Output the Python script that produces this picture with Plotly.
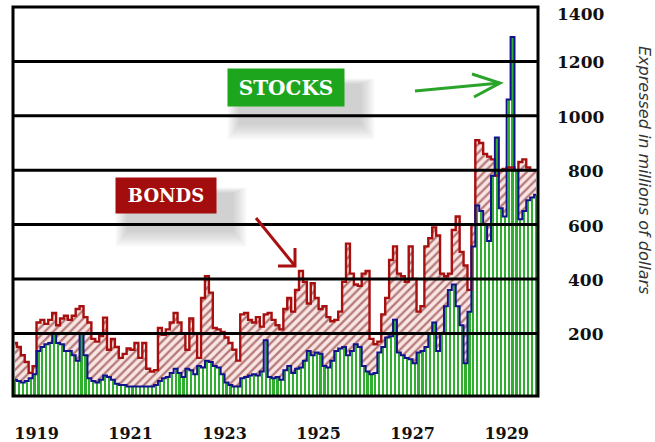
import numpy as np
import plotly.graph_objects as go

# ---------------- data (monthly, Jul 1918 .. Aug 1929), millions of dollars ----------------
START_YEAR = 1918.5
BONDS = [165, 150, 120, 95, 55, 80, 240, 250, 235, 250, 275, 230, 255, 265, 250, 265, 290, 300, 260, 240,
         180, 170, 190, 258, 140, 180, 150, 110, 125, 145, 140, 165, 110, 165, 70, 60, 65, 220, 195, 215,
         240, 275, 240, 200, 140, 255, 200, 110, 330, 410, 350, 220, 215, 205, 185, 165, 140, 100, 270, 275,
         250, 240, 260, 225, 270, 275, 250, 230, 215, 290, 330, 280, 360, 430, 390, 310, 385, 330, 290, 300,
         260, 245, 250, 280, 390, 530, 420, 380, 375, 420, 430, 180, 160, 170, 270, 330, 470, 520, 420, 410,
         390, 520, 400, 280, 300, 520, 550, 590, 560, 420, 410, 420, 580, 630, 500, 450, 360, 600, 910, 900,
         860, 850, 840, 780, 800, 805, 810, 810, 800, 830, 840, 810, 800, 800]
STOCKS = [30, 25, 20, 25, 35, 50, 135, 150, 160, 165, 200, 165, 160, 135, 135, 120, 100, 200, 120, 35,
          25, 20, 30, 45, 40, 30, 15, 10, 10, 5, 5, 5, 5, 5, 5, 5, 10, 25, 35, 40,
          55, 70, 55, 40, 70, 65, 50, 80, 75, 100, 95, 80, 75, 50, 20, 10, 5, 5, 35, 40,
          45, 50, 45, 60, 175, 40, 35, 40, 30, 65, 80, 55, 70, 75, 100, 135, 120, 130, 125, 80,
          75, 100, 135, 145, 150, 120, 135, 160, 150, 80, 60, 50, 55, 130, 150, 185, 190, 250, 130, 120,
          110, 105, 90, 130, 135, 150, 200, 240, 135, 200, 300, 360, 380, 300, 230, 90, 280, 520, 670, 650,
          600, 540, 780, 920, 660, 630, 1060, 1290, 800, 620, 650, 690, 700, 710]
YEAR_TICKS = [1919, 1921, 1923, 1925, 1927, 1929]
VALUE_TICKS = [200, 400, 600, 800, 1000, 1200, 1400]
Y_MIN, Y_MAX = -30, 1400

# ---------------- style / layout constants ----------------
W, H = 655, 442
PLOT_L, PLOT_R, PLOT_T, PLOT_B = 13, 538, 7, 396
SERIF = "DejaVu Serif"
GREEN = "#2fae2f"
RED = "#a80f0f"
BLUE = "#12128c"


def px(x):
    return (x - PLOT_L) / (PLOT_R - PLOT_L)


def py(y):
    return (PLOT_B - y) / (PLOT_B - PLOT_T)


n = len(BONDS)
months = [START_YEAR + (k + 0.5) / 12 for k in range(n)]
bonds = np.array(BONDS, dtype=float)
stocks = np.array(STOCKS, dtype=float)
upper = np.maximum(bonds, stocks)

fig = go.Figure()

# green stock bars
fig.add_trace(go.Bar(x=months, y=stocks - Y_MIN, base=Y_MIN, width=0.55 / 12,
                     marker=dict(color=GREEN, line=dict(width=0)), hoverinfo="skip", showlegend=False))
# hatched band between stocks and bonds
fig.add_trace(go.Scatter(x=months, y=stocks, mode="lines", line=dict(width=0, shape="hvh"),
                         hoverinfo="skip", showlegend=False))
fig.add_trace(go.Scatter(x=months, y=upper, mode="lines", line=dict(width=0, shape="hvh"),
                         fill="tonexty", fillcolor="rgba(0,0,0,0)",
                         fillpattern=dict(shape="/", fgcolor="#6e0e0e", bgcolor="#f9e6e4",
                                          size=6, solidity=0.38),
                         hoverinfo="skip", showlegend=False))
# lines
fig.add_trace(go.Scatter(x=months, y=bonds, mode="lines", name="Bonds",
                         line=dict(color=RED, width=2.4, shape="hvh"), showlegend=False))
fig.add_trace(go.Scatter(x=months, y=stocks, mode="lines", name="Stocks",
                         line=dict(color=BLUE, width=2, shape="hvh"), showlegend=False))

shapes = []
# soft shadows behind label boxes (box rect in px: x0, y0, x1, y1)
for (x0, y0, x1, y1) in [(227, 69, 345, 106), (115, 178, 217, 213)]:
    for k in range(7):
        spread = 22 - 3 * k
        shapes.append(dict(type="rect", xref="paper", yref="paper", layer="below",
                           x0=px(x0 + 14 - spread * 0.6), x1=px(x1 + 14 + spread * 0.7),
                           y0=py(y1 + 16 + spread * 0.8), y1=py(y0 + 16 - spread * 0.3),
                           fillcolor="#606060", opacity=0.045, line=dict(width=0)))
# thick horizontal grid lines above traces
for v in VALUE_TICKS[:-1]:
    shapes.append(dict(type="line", xref="paper", yref="y", x0=0, x1=1, y0=v, y1=v,
                       layer="above", line=dict(color="black", width=3)))
# frame
shapes.append(dict(type="rect", xref="paper", yref="paper", x0=0, x1=1, y0=0, y1=1,
                   layer="above", line=dict(color="black", width=3)))


def arrow(points, color):
    path = "M " + " L ".join(f"{px(a)},{py(b)}" for a, b in points)
    return dict(type="path", xref="paper", yref="paper", path=path, layer="above",
                line=dict(color=color, width=3))


# green arrow (to the stock spike)
shapes.append(arrow([(415, 91), (500, 83)], "#2aa52a"))
shapes.append(arrow([(472, 74), (500, 83), (474, 97)], "#2aa52a"))
# red arrow (to the 1925 bond peak)
shapes.append(arrow([(256, 218), (295, 266)], RED))
shapes.append(arrow([(295, 248), (295, 266), (278, 266)], RED))

annotations = []
annotations.append(dict(xref="paper", yref="paper", x=px(286), y=py(87.5), text="<b>STOCKS</b>",
                        xanchor="center", yanchor="middle",
                        showarrow=False, bgcolor="#1ea51e", width=114, height=35,
                        font=dict(family=SERIF, size=20, color="white")))
annotations.append(dict(xref="paper", yref="paper", x=px(166), y=py(195.5), text="<b>BONDS</b>",
                        xanchor="center", yanchor="middle",
                        showarrow=False, bgcolor="#a30d0d", width=98, height=33,
                        font=dict(family=SERIF, size=18, color="white")))
for v in VALUE_TICKS:
    annotations.append(dict(xref="paper", yref="y", x=px(606), y=v, text=f"<b>{v}</b>",
                            yshift=-7 if v == Y_MAX else -1,
                            xanchor="right", yanchor="middle", showarrow=False,
                            font=dict(family=SERIF, size=17, color="#111111")))
annotations.append(dict(xref="paper", yref="paper", x=px(645), y=py(170),
                        xanchor="center", yanchor="middle",
                        text="Expressed in millions of dollars", textangle=90, showarrow=False,
                        font=dict(family="DejaVu Sans", size=16, color="#333333", style="italic")))

fig.update_layout(
    width=W, height=H,
    margin=dict(l=PLOT_L, r=W - PLOT_R, t=PLOT_T, b=H - PLOT_B, autoexpand=False),
    paper_bgcolor="white", plot_bgcolor="white",
    bargap=0, shapes=shapes, annotations=annotations, showlegend=False,
    xaxis=dict(range=[START_YEAR, START_YEAR + n / 12], tickvals=YEAR_TICKS,
               ticktext=[f"<b>{y}</b>" for y in YEAR_TICKS], ticks="", showgrid=False,
               zeroline=False, showline=False, ticklabelstandoff=26, automargin=False,
               tickfont=dict(family=SERIF, size=16, color="#111111")),
    yaxis=dict(range=[Y_MIN, Y_MAX], showticklabels=False, ticks="", showgrid=False,
               zeroline=False, showline=False, automargin=False),
)

fig.write_html("out.html", config={"displayModeBar": False},
               post_script="document.body.style.margin='0';"
                           "document.body.style.overflow='hidden';")
